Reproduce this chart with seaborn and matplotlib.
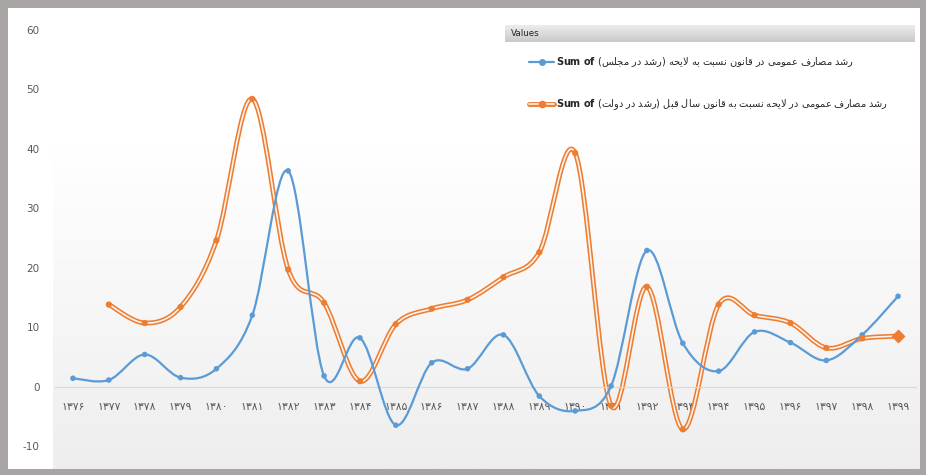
# ==============================================
# Excel style smooth line chart, two growth series
# ==============================================

import numpy as np
import pandas as pd
import matplotlib.pyplot as plt
import seaborn as sns
from matplotlib.path import Path
from matplotlib.patches import PathPatch, Rectangle
from matplotlib.lines import Line2D
from matplotlib.colors import LinearSegmentedColormap

# ----------------------------------------------
# Data
# ----------------------------------------------
years = ["۱۳۷۶", "۱۳۷۷", "۱۳۷۸", "۱۳۷۹", "۱۳۸۰", "۱۳۸۱", "۱۳۸۲", "۱۳۸۳",
         "۱۳۸۴", "۱۳۸۵", "۱۳۸۶", "۱۳۸۷", "۱۳۸۸", "۱۳۸۹", "۱۳۹۰", "۱۳۹۱",
         "۱۳۹۲", "۱۳۹۳", "۱۳۹۴", "۱۳۹۵", "۱۳۹۶", "۱۳۹۷", "۱۳۹۸", "۱۳۹۹"]

# growth in parliament (law vs bill)
majlis = [1.4, 1.1, 5.4, 1.5, 3.0, 12.0, 36.3, 1.8, 8.2, -6.5, 4.0, 3.0,
          8.7, -1.6, -4.1, 0.1, 22.9, 7.3, 2.6, 9.2, 7.4, 4.4, 8.7, 15.2]

# growth in government (bill vs last year's law), no value for 1376
dolat = [np.nan, 13.8, 10.7, 13.4, 24.6, 48.4, 19.7, 14.1, 0.9, 10.5, 13.1, 14.6,
         18.4, 22.6, 39.3, -3.2, 16.8, -7.2, 13.8, 12.0, 10.7, 6.5, 8.1, 8.5]

yticks = [-10, 0, 10, 20, 30, 40, 50, 60]

label_majlis = "رشد مصارف عمومی در قانون نسبت به لایحه (رشد در مجلس)"
label_dolat = "رشد مصارف عمومی در لایحه نسبت به قانون سال قبل (رشد در دولت)"

blue = "#5b9bd5"
orange = "#ed7d31"
grey_txt = "#595959"

# ----------------------------------------------
# Minimal Persian shaping (matplotlib has no bidi / joining)
# ----------------------------------------------
FORMS = {
    "ا": ("\uFE8D", "\uFE8E", None, None),
    "ب": ("\uFE8F", "\uFE90", "\uFE91", "\uFE92"),
    "ت": ("\uFE95", "\uFE96", "\uFE97", "\uFE98"),
    "ج": ("\uFE9D", "\uFE9E", "\uFE9F", "\uFEA0"),
    "ح": ("\uFEA1", "\uFEA2", "\uFEA3", "\uFEA4"),
    "د": ("\uFEA9", "\uFEAA", None, None),
    "ر": ("\uFEAD", "\uFEAE", None, None),
    "س": ("\uFEB1", "\uFEB2", "\uFEB3", "\uFEB4"),
    "ش": ("\uFEB5", "\uFEB6", "\uFEB7", "\uFEB8"),
    "ص": ("\uFEB9", "\uFEBA", "\uFEBB", "\uFEBC"),
    "ع": ("\uFEC9", "\uFECA", "\uFECB", "\uFECC"),
    "ف": ("\uFED1", "\uFED2", "\uFED3", "\uFED4"),
    "ق": ("\uFED5", "\uFED6", "\uFED7", "\uFED8"),
    "ل": ("\uFEDD", "\uFEDE", "\uFEDF", "\uFEE0"),
    "م": ("\uFEE1", "\uFEE2", "\uFEE3", "\uFEE4"),
    "ن": ("\uFEE5", "\uFEE6", "\uFEE7", "\uFEE8"),
    "ه": ("\uFEE9", "\uFEEA", "\uFEEB", "\uFEEC"),
    "و": ("\uFEED", "\uFEEE", None, None),
    "ی": ("\uFEEF", "\uFEF0", "\uFEF3", "\uFEF4"),
}
LAM_ALEF = ("\uFEFB", "\uFEFC")


def shape(text):
    out = []
    prev_joins = False
    i = 0
    while i < len(text):
        c = text[i]
        if c not in FORMS:
            out.append(c)
            prev_joins = False
            i += 1
            continue
        if c == "ل" and i + 1 < len(text) and text[i + 1] == "ا":
            out.append(LAM_ALEF[1] if prev_joins else LAM_ALEF[0])
            prev_joins = False
            i += 2
            continue
        iso, fin, ini, med = FORMS[c]
        nxt = text[i + 1] if i + 1 < len(text) else ""
        joins_next = ini is not None and nxt in FORMS
        if prev_joins and joins_next:
            out.append(med)
        elif prev_joins:
            out.append(fin)
        elif joins_next:
            out.append(ini)
        else:
            out.append(iso)
        prev_joins = joins_next
        i += 1
    return "".join(out)


def rtl(text):
    s = shape(text)[::-1]
    return s.translate(str.maketrans("()", ")("))


def smooth_path(xs, ys):
    # Excel like smoothed line: cubic bezier through every point
    pts = np.column_stack([xs, ys])
    verts = [tuple(pts[0])]
    codes = [Path.MOVETO]
    n = len(pts)
    for i in range(n - 1):
        p0 = pts[i - 1] if i > 0 else pts[i]
        p1, p2 = pts[i], pts[i + 1]
        p3 = pts[i + 2] if i + 2 < n else pts[i + 1]
        verts += [tuple(p1 + (p2 - p0) / 6), tuple(p2 - (p3 - p1) / 6), tuple(p2)]
        codes += [Path.CURVE4] * 3
    return Path(verts, codes)


# ----------------------------------------------
# Figure
# ----------------------------------------------
sns.set_style("white")
plt.rcParams["font.family"] = ["DejaVu Sans"]
plt.rcParams["mathtext.fontset"] = "dejavusans"

W, H = 926, 475
fig = plt.figure(figsize=(W / 100, H / 100), dpi=100)
fig.patch.set_facecolor("#a8a5a4")


def fig_box(x0, y0, x1, y1):
    # pixel box (top-left origin) -> figure fractions
    return [x0 / W, 1 - y1 / H, (x1 - x0) / W, (y1 - y0) / H]


# white inner chart area
ax_in = fig.add_axes(fig_box(8, 8, 920, 469))
ax_in.set_axis_off()
ax_in.add_patch(Rectangle((0, 0), 1, 1, transform=ax_in.transAxes, color="white"))

# plot area gradient
ax_bg = fig.add_axes(fig_box(53, 8, 920, 469))
ax_bg.set_axis_off()
grad_cmap = LinearSegmentedColormap.from_list(
    "g", [(0, "#ffffff"), (0.3, "#ffffff"), (1, "#eeeeee")])
ax_bg.imshow(np.linspace(0, 1, 256).reshape(-1, 1), aspect="auto", cmap=grad_cmap,
             extent=[0, 1, 0, 1], origin="upper")

# main axes
ax = fig.add_axes(fig_box(55, 30, 916, 446))
ax.set_facecolor("none")

x = np.arange(len(years))
df = pd.DataFrame({
    "pos": np.concatenate([x, x]),
    "value": majlis + dolat,
    "series": ["majlis"] * len(years) + ["dolat"] * len(years),
}).dropna()

# smooth lines
ax.add_patch(PathPatch(smooth_path(x, majlis), fill=False, edgecolor=blue,
                       lw=1.6, zorder=3, capstyle="round"))
mask = ~np.isnan(dolat)
dpath = smooth_path(x[mask], np.array(dolat)[mask])
ax.add_patch(PathPatch(dpath, fill=False, edgecolor=orange, lw=3.5, zorder=2))
ax.add_patch(PathPatch(dpath, fill=False, edgecolor="#fdf3ec", lw=1.2, zorder=2))

# markers
sns.scatterplot(data=df[df["series"] == "majlis"], x="pos", y="value", color=blue,
                s=16, edgecolor="none", zorder=4, ax=ax, legend=False)
sns.scatterplot(data=df[df["series"] == "dolat"].iloc[:-1], x="pos", y="value",
                color=orange, s=20, edgecolor="none", zorder=4, ax=ax, legend=False)
ax.scatter(x[-1], dolat[-1], marker="D", s=38, color=orange, zorder=4)

# axes styling
ax.set_xlim(-0.5, len(years) - 0.5)
ax.set_ylim(-10, 60)
ax.set_xlabel("")
ax.set_ylabel("")
for side in ["top", "right", "left"]:
    ax.spines[side].set_visible(False)
ax.spines["bottom"].set_position(("data", 0))
ax.spines["bottom"].set_color("#d9d9d9")
ax.spines["bottom"].set_linewidth(0.8)

ax.set_xticks(x)
ax.set_xticklabels(years)
ax.set_xticks(np.arange(-0.5, len(years)), minor=True)
ax.tick_params(axis="x", which="major", length=0, pad=11, labelsize=7.8,
               labelcolor=grey_txt)
ax.tick_params(axis="x", which="minor", length=4, width=0.8, color="#d9d9d9",
               direction="out")
ax.set_yticks(yticks)
ax.set_yticklabels([str(v) for v in yticks])
ax.tick_params(axis="y", length=0, pad=11, labelsize=7.5, labelcolor=grey_txt)

# "Values" field button
ax_btn = fig.add_axes(fig_box(505, 25, 915, 42))
ax_btn.set_axis_off()
btn_cmap = LinearSegmentedColormap.from_list("b", ["#ececec", "#c9c9c9"])
ax_btn.imshow(np.linspace(0, 1, 32).reshape(-1, 1), aspect="auto", cmap=btn_cmap,
              extent=[0, 1, 0, 1], origin="upper")
fig.text(511 / W, 1 - 33.5 / H, "Values", fontsize=6.3, va="center", color="#262626")

# legend
h_blue = Line2D([], [], color=blue, lw=1.6, marker="o", ms=4)
h_or = (Line2D([], [], color=orange, lw=3.5),
        Line2D([], [], color="#fdf3ec", lw=1.2),
        Line2D([], [], color=orange, lw=0, marker="o", ms=4.5))
fig.legend([h_blue, h_or],
           [r"$\mathbf{Sum\ of}$ " + rtl(label_majlis),
            r"$\mathbf{Sum\ of}$ " + rtl(label_dolat)],
           loc="upper left", bbox_to_anchor=(529 / W, 1 - 55 / H), frameon=False,
           fontsize=7, handlelength=2.6, handletextpad=0.15, labelspacing=2.9,
           borderpad=0, borderaxespad=0, labelcolor="#262626")

fig.savefig("out.png", dpi=100, facecolor=fig.get_facecolor())
